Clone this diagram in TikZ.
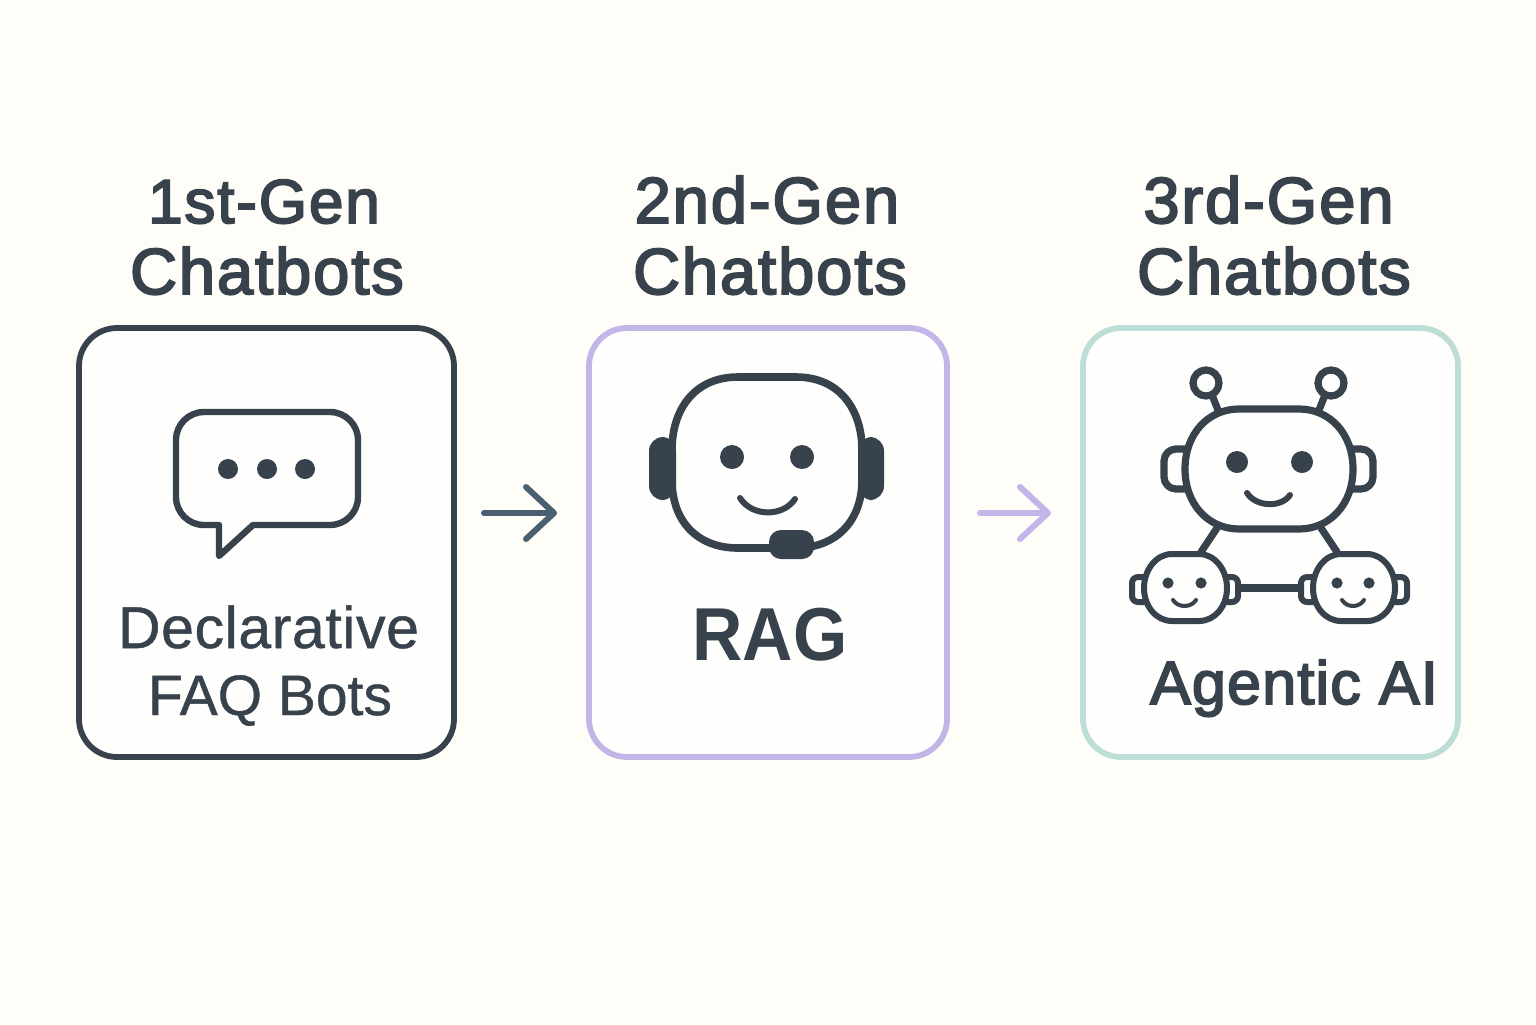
\documentclass[tikz,border=0pt]{standalone}
\usepackage{fontspec}
\usetikzlibrary{arrows.meta}
\setmainfont{Liberation Sans}
\newfontfamily\titlef[FakeBold=3,LetterSpace=3]{Liberation Sans}
\newfontfamily\regf[FakeBold=0.8,LetterSpace=1]{Liberation Sans}
\newfontfamily\faqf[FakeBold=0.8]{Liberation Sans}
\newfontfamily\agentf[FakeBold=3,LetterSpace=2]{Liberation Sans}
\newfontfamily\ragf[FakeStretch=0.93]{Liberation Sans Bold}
\definecolor{bg}{HTML}{FFFDF8}
\definecolor{card}{HTML}{FEFEFC}
\definecolor{ink}{HTML}{38424D}
\definecolor{slate}{HTML}{4A6071}
\definecolor{lav}{HTML}{C1B6E7}
\definecolor{mint}{HTML}{BDDED6}
\tikzset{
  x=0.5pt,y=-0.5pt,
  cardbox/.style={draw,fill=card,line width=2.9pt,rounded corners=19pt,inner sep=0pt,minimum width=#1},
  icon/.style={draw=ink,line width=3.6pt,line join=round,line cap=round},
  iconthin/.style={draw=ink,line width=3pt,line join=round,line cap=round},
  flow/.style={line width=3pt,line cap=round,line join=round,
    -{Straight Barb[round,length=14pt,width=26pt]}},
  titletext/.style={text=ink,anchor=base,inner sep=0pt,align=center},
  bigtitle/.style={titletext,font=\titlef\fontsize{32.5}{32.5}\selectfont},
}
\begin{document}
\begin{tikzpicture}
\useasboundingbox (0,0) rectangle (1536,1024);
\fill[bg] (0,0) rectangle (1536,1024);
% cards
\node[cardbox=187.5pt,draw=ink,minimum height=214.5pt] (card1) at (266.5,542.5) {};
\node[cardbox=179pt,draw=lav,minimum height=214.5pt] (card2) at (768,542.5) {};
\node[cardbox=187.5pt,draw=mint,minimum height=214.5pt] (card3) at (1270.5,542.5) {};
% titles
\node[titletext,font=\titlef\fontsize{31}{31}\selectfont] (t1a) at (264,223) {1st-Gen};
\node[bigtitle] (t1b) at (267,294) {Chatbots};
\node[bigtitle] (t2a) at (767,223) {2nd-Gen};
\node[bigtitle] (t2b) at (770,294) {Chatbots};
\node[bigtitle] (t3a) at (1268.5,223) {3rd-Gen};
\node[bigtitle] (t3b) at (1274,294) {Chatbots};
% arrows
\coordinate (a1s) at (484,513); \coordinate (a1e) at (557,513);
\coordinate (a2s) at (980,513); \coordinate (a2e) at (1051,513);
\draw[flow,draw=slate] (a1s) -- (a1e);
\draw[flow,draw=lav] (a2s) -- (a2e);
% speech bubble
\draw[icon,line width=3.2pt] (204,412) -- (330,412) arc[start angle=-90,end angle=0,radius=28] -- (358,497)
  arc[start angle=0,end angle=90,radius=28] -- (253,525) -- (219,556) -- (219,525) -- (204,525)
  arc[start angle=90,end angle=180,radius=28] -- (176,440) arc[start angle=180,end angle=270,radius=28] -- cycle;
\fill[ink] (228,469) circle[radius=5pt] (267,469) circle[radius=5pt] (305,469) circle[radius=5pt];
\node[titletext,font=\regf\fontsize{29.5}{29.5}\selectfont] (l1a) at (268.5,648) {Declarative};
\node[titletext,font=\faqf\fontsize{28.5}{28.5}\selectfont] (l1b) at (270,715) {FAQ Bots};
% headset
\fill[ink,rounded corners=7pt] (649,437) rectangle (676,500);
\fill[ink,rounded corners=7pt] (858,437) rectangle (884,500);
\draw[icon,line width=3.8pt] (738,377) -- (796,377) .. controls (840,377) and (862,410) .. (862,450)
  -- (862,480) .. controls (862,522) and (835,548) .. (796,548) -- (738,548)
  .. controls (698,548) and (672,522) .. (672,480) -- (672,450) .. controls (672,410) and (694,377) .. (738,377) -- cycle;
\fill[ink] (732,457) circle[radius=6pt] (802,457) circle[radius=6pt];
\draw[iconthin] (740,498) .. controls (752,517) and (783,517) .. (795,499);
\fill[ink,rounded corners=6pt] (769,530) rectangle (814,559);
\node[titletext,font=\ragf\fontsize{37.5}{37.5}\selectfont] (l2) at (770,660) {RAG};
% big robot
\draw[icon] (1212,395) -- (1218,410) (1325,395) -- (1319,410);
\draw[icon] (1206,383) circle[radius=6.5pt] (1331,383) circle[radius=6.5pt];
\draw[icon] (1185,449) -- (1176,449) arc[start angle=-90,end angle=-180,radius=12] -- (1164,477) arc[start angle=180,end angle=90,radius=12] -- (1185,489);
\draw[icon] (1353,449) -- (1361,449) arc[start angle=-90,end angle=0,radius=12] -- (1373,477) arc[start angle=0,end angle=90,radius=12] -- (1353,489);
\draw[icon] (1239,409) -- (1299,409) .. controls (1330,409) and (1353,434) .. (1353,469)
 .. controls (1353,504) and (1330,529) .. (1299,529) -- (1239,529)
 .. controls (1208,529) and (1185,504) .. (1185,469) .. controls (1185,434) and (1208,409) .. (1239,409) -- cycle;
\fill[ink] (1237,462) circle[radius=5.5pt] (1302,462) circle[radius=5.5pt];
\draw[iconthin] (1247,493) .. controls (1256,507) and (1281,508) .. (1290,495);
% links
\draw[icon] (1217,528) -- (1201,552) (1321,528) -- (1337,552);
\draw[icon] (1240,588) -- (1298,588);
% small robots
\draw[iconthin] (1144,577) -- (1138,577) arc[start angle=-90,end angle=-180,radius=6] -- (1132,596) arc[start angle=180,end angle=90,radius=6] -- (1144,602);
\draw[iconthin] (1227,577) -- (1232,577) arc[start angle=-90,end angle=0,radius=6] -- (1238,596) arc[start angle=0,end angle=90,radius=6] -- (1227,602);
\draw[iconthin] (1313,577) -- (1307,577) arc[start angle=-90,end angle=-180,radius=6] -- (1301,596) arc[start angle=180,end angle=90,radius=6] -- (1313,602);
\draw[iconthin] (1395,577) -- (1401,577) arc[start angle=-90,end angle=0,radius=6] -- (1407,596) arc[start angle=0,end angle=90,radius=6] -- (1395,602);
\draw[iconthin] (1172,554) -- (1199,554) .. controls (1215,554) and (1227,570) .. (1227,588)
 .. controls (1227,606) and (1215,621) .. (1199,621) -- (1172,621)
 .. controls (1156,621) and (1144,606) .. (1144,588) .. controls (1144,570) and (1156,554) .. (1172,554) -- cycle;
\draw[iconthin] (1341,554) -- (1367,554) .. controls (1383,554) and (1395,570) .. (1395,588)
 .. controls (1395,606) and (1383,621) .. (1367,621) -- (1341,621)
 .. controls (1325,621) and (1313,606) .. (1313,588) .. controls (1313,570) and (1325,554) .. (1341,554) -- cycle;
\fill[ink] (1168,583) circle[radius=2.8pt] (1201,583) circle[radius=2.8pt] (1337,583) circle[radius=2.8pt] (1369,583) circle[radius=2.8pt];
\draw[iconthin,line width=2pt] (1173,600) .. controls (1178,608) and (1191,608) .. (1196,600);
\draw[iconthin,line width=2pt] (1342,600) .. controls (1347,608) and (1359,608) .. (1364,600);
\node[titletext,font=\agentf\fontsize{30.5}{30.5}\selectfont] (l3) at (1294,704) {Agentic AI};
\end{tikzpicture}
\end{document}
